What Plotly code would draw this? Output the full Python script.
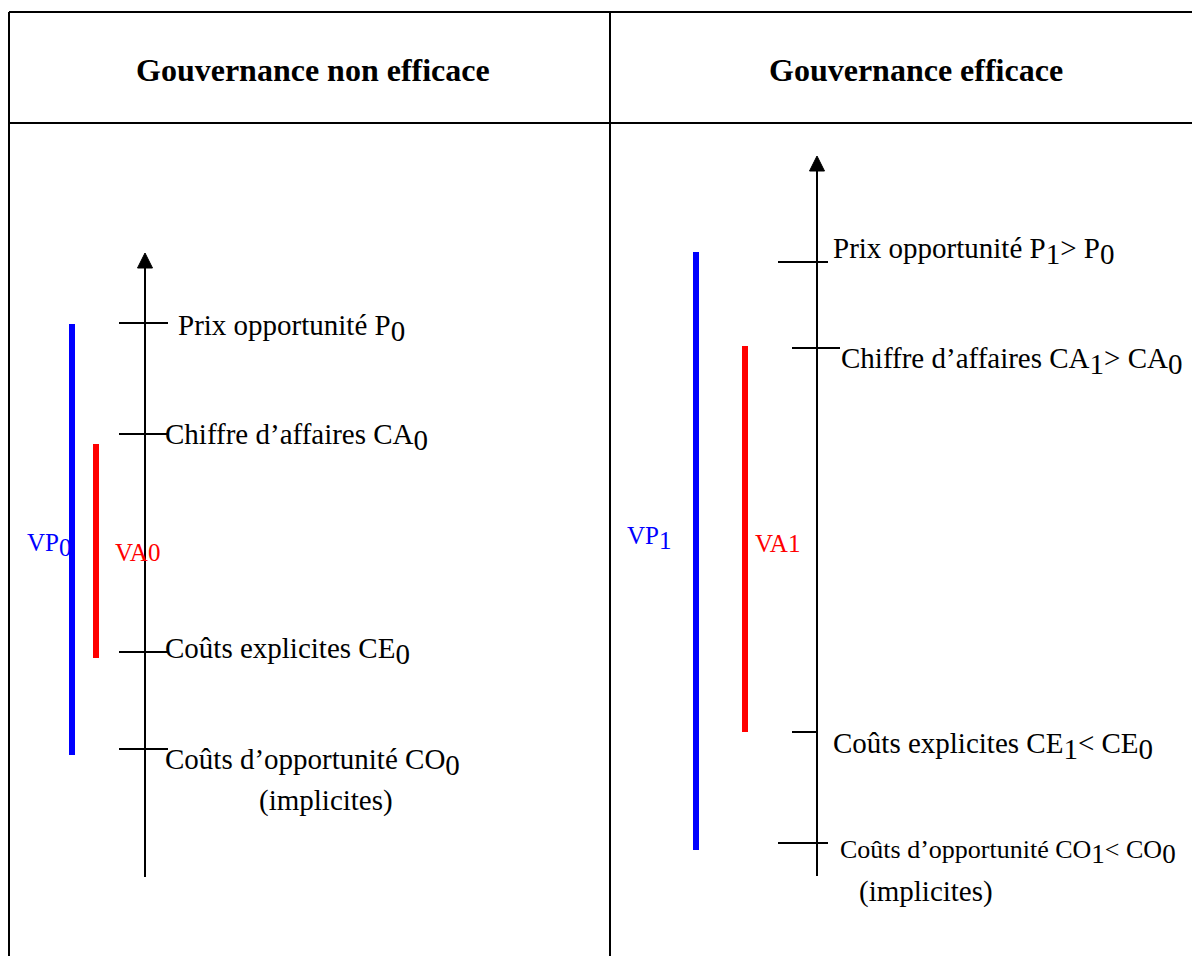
import plotly.graph_objects as go

W, H = 1200, 956
OFF = 8  # browser default page margin, compensated through the axis ranges
FONT = "Liberation Serif, Times New Roman, serif"

def sub(t, size=29):
    return '<sub><span style="font-size:%dpx">%s</span></sub>' % (size, t)

# ---- panel headings ----
panel_titles = ["Gouvernance non efficace", "Gouvernance efficace"]

# ---- left panel: gouvernance non efficace (vertical value scale) ----
left_levels = [633, 522, 304, 207]            # P0, CA0, CE0, CO0
left_labels = ["Prix opportunité P" + sub("0"),
               "Chiffre d’affaires CA" + sub("0"),
               "Coûts explicites CE" + sub("0"),
               "Coûts d’opportunité CO" + sub("0")]
left_axis = [79, 703]                         # bottom, top of value axis
left_vp = [632, 201]                          # VP0 span
left_va = [512, 298]                          # VA0 span

# ---- right panel: gouvernance efficace ----
right_levels = [694, 608, 224, 113]           # P1, CA1, CE1, CO1
right_labels = ["Prix opportunité P" + sub("1") + "&gt; P" + sub("0"),
                "Chiffre d’affaires CA" + sub("1") + "&gt; CA" + sub("0"),
                "Coûts explicites CE" + sub("1") + "&lt; CE" + sub("0"),
                "Coûts d’opportunité CO" + sub("1", 27) + "&lt; CO" + sub("0", 27)]
right_axis = [80, 800]
right_vp = [704, 106]
right_va = [610, 224]

fig = go.Figure()

def vline(x, y0, y1, color, width):
    fig.add_trace(go.Scatter(x=[x, x], y=[y0, y1], mode="lines",
                             line=dict(color=color, width=width),
                             hoverinfo="skip", showlegend=False))

def hline(x0, x1, y, color="black", width=2):
    fig.add_trace(go.Scatter(x=[x0, x1], y=[y, y], mode="lines",
                             line=dict(color=color, width=width),
                             hoverinfo="skip", showlegend=False))

def axis_arrow(x, bottom, top, head=15):
    vline(x, bottom, top - head + 1, "black", 2)
    fig.add_trace(go.Scatter(x=[x - head / 2, x + head / 2, x, x - head / 2],
                             y=[top - head, top - head, top, top - head],
                             mode="lines", fill="toself", fillcolor="black",
                             line=dict(color="black", width=1),
                             hoverinfo="skip", showlegend=False))

def label(x, y, text, size=29, color="black", xanchor="left"):
    fig.add_annotation(x=x, y=y, text=text, showarrow=False, xanchor=xanchor,
                       yanchor="middle", font=dict(family=FONT, size=size, color=color))

# ----- left panel -----
LX = 145
axis_arrow(LX, left_axis[0], left_axis[1])
for lv in left_levels:
    hline(119, 168, lv)
vline(72, left_vp[0], left_vp[1], "#0000ff", 6)
vline(96, left_va[0], left_va[1], "#ff0000", 6)
label(176, left_levels[0] - 5, left_labels[0])
label(163, left_levels[1] - 3, left_labels[1])
label(163, left_levels[2] + 1, left_labels[2])
label(163, left_levels[3] - 13, left_labels[3])
label(326, left_levels[3] - 51, "(implicites)", xanchor="center")
label(25, (left_vp[0] + left_vp[1]) / 2 - 5, "VP" + sub("0", 25), size=25, color="#0000ff")
label(113, (left_va[0] + left_va[1]) / 2 - 1, "VA0", size=25, color="#ff0000")

# ----- right panel -----
RX = 817
axis_arrow(RX, right_axis[0], right_axis[1])
tick_spans = [(778, 828), (792, 840), (792, 817), (778, 828)]
for lv, (a, b) in zip(right_levels, tick_spans):
    hline(a, b, lv)
vline(696, right_vp[0], right_vp[1], "#0000ff", 6)
vline(745, right_va[0], right_va[1], "#ff0000", 6)
label(831, right_levels[0] + 11, right_labels[0])
label(839, right_levels[1] - 13, right_labels[1])
label(831, right_levels[2] - 14, right_labels[2])
label(838, right_levels[3] - 9, right_labels[3], size=26)
label(926, right_levels[3] - 48, "(implicites)", xanchor="center")
label(625, (right_vp[0] + right_vp[1]) / 2 + 13, "VP" + sub("1", 25), size=25, color="#0000ff")
label(753, (right_va[0] + right_va[1]) / 2 - 4, "VA1", size=25, color="#ff0000")

# ----- headings -----
label(313, 886, "<b>" + panel_titles[0] + "</b>", size=32, xanchor="center")
label(916, 886, "<b>" + panel_titles[1] + "</b>", size=32, xanchor="center")

# ----- table frame (data coordinates: y = H - pixel row) -----
frame = dict(type="line", xref="x", yref="y", line=dict(color="black", width=2))
top_y, head_y = H - 12, H - 123
fig.add_shape(x0=9, x1=W + OFF, y0=top_y, y1=top_y, **frame)
fig.add_shape(x0=9, x1=W + OFF, y0=head_y, y1=head_y, **frame)
fig.add_shape(x0=9, x1=9, y0=-OFF, y1=top_y, **frame)
fig.add_shape(x0=610, x1=610, y0=-OFF, y1=top_y, **frame)

fig.update_layout(
    width=W, height=H, margin=dict(l=0, r=0, t=0, b=0),
    paper_bgcolor="white", plot_bgcolor="white", showlegend=False,
    xaxis=dict(range=[OFF, W + OFF], visible=False, fixedrange=True),
    yaxis=dict(range=[-OFF, H - OFF], visible=False, fixedrange=True),
)

fig.write_html("out.html")
